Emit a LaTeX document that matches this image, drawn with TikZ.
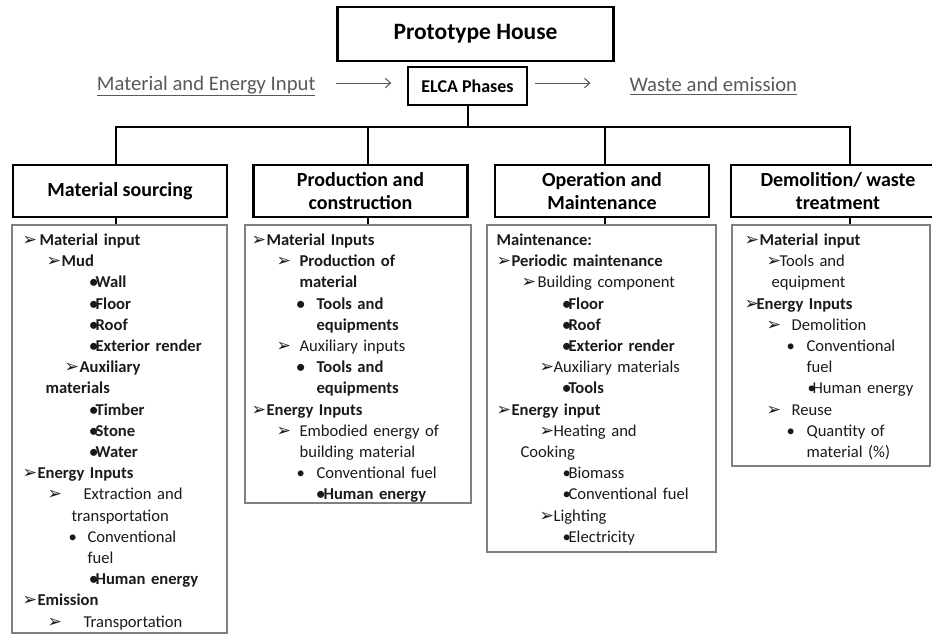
\documentclass[tikz,border=0pt]{standalone}
\usepackage{fontspec}
\setmainfont{Carlito}
\newfontfamily\symfont{DejaVu Sans}
\usepackage{tikz}
\usepackage{xcolor}
\usetikzlibrary{arrows.meta, positioning}
\newdimen\pxu \pxu=0.75pt
\definecolor{labelgray}{HTML}{595959}
\definecolor{boxgray}{HTML}{7F7F7F}
\definecolor{textblack}{HTML}{1A1A1A}
% helpers for the indented lists
\newcommand{\listfont}{\fontsize{12.45pt}{15.9pt}\selectfont\lineskiplimit=-\maxdimen}
\newcommand{\arw}[2]{\hspace*{#1\pxu}\makebox[#2\pxu][l]{{\symfont\fontsize{13pt}{10pt}\selectfont ➢}}}
\newcommand{\bul}[2]{\hspace*{#1\pxu}\makebox[#2\pxu][l]{•}}
\newcommand{\ind}[1]{\hspace*{#1\pxu}}
\tikzset{%
>={Straight Barb[length=4pt,width=7pt]},
% Specifications for style of nodes:
base/.style = {draw, line width=1.9pt, inner sep=0pt, align=center, text centered},
titleBox/.style = {base, minimum width=276\pxu, minimum height=54\pxu, font=\fontsize{17.6pt}{20pt}\selectfont\bfseries},
phaseTag/.style = {base, minimum width=119\pxu, minimum height=38\pxu, font=\fontsize{13.5pt}{16pt}\selectfont\bfseries},
phaseHead/.style = {base, minimum width=214\pxu, minimum height=52\pxu, font=\fontsize{15pt}{17.25pt}\selectfont\bfseries},
listBox/.style = {draw=boxgray, line width=1pt, inner sep=0pt},
listText/.style = {anchor=north west, inner sep=0pt, align=left, font=\listfont, text=textblack},
sideLabel/.style = {inner sep=0pt, text=labelgray, font=\fontsize{15.5pt}{18pt}\selectfont},
bus/.style = {line width=1.5pt},
flow/.style = {->, draw=labelgray, line width=0.8pt},
}
\begin{document}
\begin{tikzpicture}[x=0.75pt, y=-0.75pt]
        \useasboundingbox (0,0) rectangle (932,634);
        % Specification of nodes (position, etc.)
        \node (house) [titleBox] at (475.5,34) {Prototype House};
        \node (elca) [phaseTag] at (467.5,86) {ELCA Phases};
        \node (inputLabel) [sideLabel, left=91\pxu of elca] {\underline{Material and Energy Input}};
        \node (outputLabel) [sideLabel, right=101\pxu of elca] {\underline{Waste and emission}};

        \node (sourcingHead) [phaseHead] at (120,191) {Material sourcing};
        \node (productionHead) [phaseHead] at (360.5,191) {Production and\\construction};
        \node (operationHead) [phaseHead] at (602,191) {Operation and\\Maintenance};
        \node (demolitionHead) [phaseHead] at (838,191) {Demolition/ waste\\treatment};

        \node (sourcingBox) [listBox, minimum width=215\pxu, minimum height=408\pxu] at (119.5,429) {};
        \node (productionBox) [listBox, minimum width=226\pxu, minimum height=278\pxu] at (358,364) {};
        \node (operationBox) [listBox, minimum width=229\pxu, minimum height=327\pxu] at (601.5,388.5) {};
        \node (demolitionBox) [listBox, minimum width=198\pxu, minimum height=241\pxu] at (831,345.5) {};

        \node (sourcingList) [listText, text width=215\pxu] at ([yshift=-6\pxu]sourcingBox.north west) {%
            \strut\textbf{\arw{11}{17}Material input}\\
            \textbf{\arw{35}{15}Mud}\\
            \textbf{\bul{78}{6}Wall}\\
            \textbf{\bul{78}{6}Floor}\\
            \textbf{\bul{78}{6}Roof}\\
            \textbf{\bul{78}{6}Exterior render}\\
            \textbf{\arw{53}{15}Auxiliary}\\
            \textbf{\ind{34}materials}\\
            \textbf{\bul{78}{6}Timber}\\
            \textbf{\bul{78}{6}Stone}\\
            \textbf{\bul{78}{6}Water}\\
            \textbf{\arw{11}{15}Energy Inputs}\\
            \arw{36}{36}Extraction and\\
            \ind{60}transportation\\
            \bul{57}{19}Conventional\\
            \ind{76}fuel\\
            \textbf{\bul{78}{6}Human energy}\\
            \textbf{\arw{11}{15}Emission}\\
            \arw{36}{36}Transportation};
        \node (productionList) [listText, text width=226\pxu] at ([yshift=-6\pxu]productionBox.north west) {%
            \strut\textbf{\arw{7}{15}Material Inputs}\\
            \textbf{\arw{32}{23}Production of}\\
            \textbf{\ind{55}material}\\
            \textbf{\bul{52}{20}Tools and}\\
            \textbf{\ind{72}equipments}\\
            \arw{32}{23}Auxiliary inputs\\
            \textbf{\bul{52}{20}Tools and}\\
            \textbf{\ind{72}equipments}\\
            \textbf{\arw{7}{15}Energy Inputs}\\
            \arw{32}{23}Embodied energy of\\
            \ind{55}building material\\
            \bul{52}{20}Conventional fuel\\
            \textbf{\bul{72}{7}Human energy}};
        \node (operationList) [listText, text width=229\pxu] at ([yshift=-6\pxu]operationBox.north west) {%
            \strut\textbf{\ind{10}Maintenance:}\\
            \textbf{\arw{10}{15}Periodic maintenance}\\
            \arw{35}{16}Building component\\
            \textbf{\bul{76}{6}Floor}\\
            \textbf{\bul{76}{6}Roof}\\
            \textbf{\bul{76}{6}Exterior render}\\
            \arw{53}{14}Auxiliary materials\\
            \textbf{\bul{76}{6}Tools}\\
            \textbf{\arw{10}{15}Energy input}\\
            \arw{53}{14}Heating and\\
            \ind{34}Cooking\\
            \bul{76}{6}Biomass\\
            \bul{76}{6}Conventional fuel\\
            \arw{53}{14}Lighting\\
            \bul{76}{6}Electricity};
        \node (demolitionList) [listText, text width=198\pxu] at ([yshift=-6\pxu]demolitionBox.north west) {%
            \strut\textbf{\arw{13}{15}Material input}\\
            \arw{35}{13}Tools and\\
            \ind{40}equipment\\
            \textbf{\arw{13}{12}Energy Inputs}\\
            \arw{35}{25}Demolition\\
            \bul{55}{20}Conventional\\
            \ind{75}fuel\\
            \bul{76}{5}Human energy\\
            \arw{35}{25}Reuse\\
            \bul{55}{20}Quantity of\\
            \ind{75}material (\%)};

        % connectors
        \draw [flow, shorten <=15pt, shorten >=11.5pt] ([yshift=2.2pt]inputLabel.east) -- ([yshift=2.2pt]elca.west);
        \draw [flow, shorten <=5pt, shorten >=29pt] ([yshift=2.2pt]elca.east) -- ([yshift=2.2pt]outputLabel.west);
        \draw [bus] (elca.south) -- ++(0,21) coordinate (busTop);
        \draw [bus] (busTop) -| ([xshift=-3pt]sourcingHead.north);
        \draw [bus] (busTop) -| ([xshift=5.6pt]productionHead.north);
        \draw [bus] (busTop) -| ([xshift=2.2pt]operationHead.north);
        \draw [bus] (busTop) -| ([xshift=9pt]demolitionHead.north);
        \draw [bus] ([xshift=-3pt]sourcingHead.south) -- ([xshift=-3pt]sourcingHead.south |- sourcingBox.north);
        \draw [bus] ([xshift=5.6pt]productionHead.south) -- ([xshift=5.6pt]productionHead.south |- productionBox.north);
        \draw [bus] ([xshift=2.2pt]operationHead.south) -- ([xshift=2.2pt]operationHead.south |- operationBox.north);
        \draw [bus] ([xshift=9pt]demolitionHead.south) -- ([xshift=9pt]demolitionHead.south |- demolitionBox.north);
    \end{tikzpicture}
\end{document}
